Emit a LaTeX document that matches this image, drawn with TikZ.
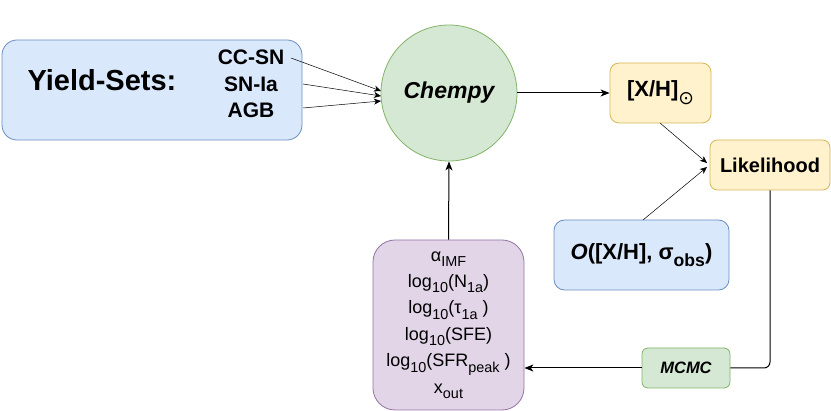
\documentclass[tikz,border=0pt]{standalone}
\usepackage{fontspec}
\usepackage{graphicx}
\setmainfont{Liberation Sans}
\newfontfamily\dejavu{DejaVu Sans}
\usetikzlibrary{arrows.meta}
\definecolor{bluefill}{HTML}{DAE8FC}
\definecolor{bluedraw}{HTML}{6C8EBF}
\definecolor{greenfill}{HTML}{D5E8D4}
\definecolor{greendraw}{HTML}{82B366}
\definecolor{yellowfill}{HTML}{FFF2CC}
\definecolor{yellowdraw}{HTML}{D6B656}
\definecolor{purplefill}{HTML}{E1D5E7}
\definecolor{purpledraw}{HTML}{9673A6}
\newcommand\sbx[1]{\raisebox{-0.3em}{\scalebox{0.8}{#1}}}
\newcommand\fs[1]{\fontsize{#1}{1.2\dimexpr #1pt\relax}\selectfont}
\tikzset{
  box/.style={rectangle, draw, line width=0.8pt, inner sep=0pt, align=center},
  bluebox/.style={box, fill=bluefill, draw=bluedraw},
  greenbox/.style={box, fill=greenfill, draw=greendraw},
  yellowbox/.style={box, fill=yellowfill, draw=yellowdraw},
  purplebox/.style={box, fill=purplefill, draw=purpledraw},
  txt/.style={inner sep=0pt, align=center},
  thinarrow/.style={line width=0.5pt, -{Stealth[length=7pt,width=6pt,inset=2pt]}},
  thickarrow/.style={line width=1pt, -{Stealth[length=9pt,width=7pt,inset=2.5pt]}},
}
\begin{document}
\begin{tikzpicture}[x=1pt,y=-1pt]
\useasboundingbox (0,0) rectangle (831,411);
% Yield-sets box
\node[bluebox, rounded corners=15pt, minimum width=300pt, minimum height=100pt] (yield) at (152,90) {};
\node[txt, font=\fs{29}\bfseries] (ytitle) at (102,80) {Yield-Sets:};
\node[txt, font=\fs{21}\bfseries] (ccsn) at (251,57.5) {CC-SN};
\node[txt, font=\fs{21}\bfseries] (snia) at (251,84) {SN-Ia};
\node[txt, font=\fs{21}\bfseries] (agb) at (251,110) {AGB};
% Chempy
\node[circle, draw=greendraw, fill=greenfill, line width=0.8pt, minimum size=136pt, inner sep=0pt, font=\fs{23}\bfseries\itshape] (chempy) at (449,93) {Chempy};
\coordinate (c1) at (381,91);
\coordinate (c2) at (381,96);
\coordinate (c3) at (381,101);
\coordinate (s1) at (291,58);
\coordinate (s2) at (303,84);
\coordinate (s3) at (303,108);
\draw[thinarrow] (s1) -- (c1);
\draw[thinarrow] (s2) -- (c2);
\draw[thinarrow] (s3) -- (c3);
% [X/H]
\node[yellowbox, rounded corners=9pt, minimum width=101pt, minimum height=60pt, font=\fs{22}\bfseries] (xh) at (660.5,93) {[X/H]\raisebox{-0.35em}{\scalebox{0.85}{\mdseries\dejavu ⊙}}};
% Likelihood
\node[yellowbox, rounded corners=7.5pt, minimum width=120pt, minimum height=50pt, font=\fs{20}\bfseries] (lik) at (770,165) {Likelihood};
% Observations
\node[bluebox, rounded corners=10.5pt, minimum width=175pt, minimum height=70pt, font=\fs{22}\bfseries] (obs) at (641.5,255) {\textit{O}([X/H], σ\sbx{obs})};
% MCMC
\node[greenbox, rounded corners=6pt, minimum width=88pt, minimum height=40pt, font=\fs{16.5}\bfseries\itshape] (mcmc) at (686,368) {MCMC};
% Parameters
\node[purplebox, rounded corners=22pt, minimum width=151pt, minimum height=170pt, font=\fontsize{18}{26.4}\selectfont] (params) at (448.5,325) {α\sbx{IMF}\\ log\sbx{10}(N\sbx{1a})\\ log\sbx{10}(τ\sbx{1a} )\\ log\sbx{10}(SFE)\\ log\sbx{10}(SFR\sbx{peak} )\\ x\sbx{out}};
% connectors
\coordinate (xhs) at (660,123);
\coordinate (l1) at (707,163);
\coordinate (obsn) at (643,220);
\coordinate (l2) at (707,167);
\draw[thickarrow] (chempy.east) -- (xh.west);
\draw[thinarrow] (xhs) -- (l1);
\draw[thinarrow] (obsn) -- (l2);
\draw[line width=1pt, rounded corners=6pt] (lik.south) |- (mcmc.east);
\draw[thickarrow] (mcmc.west) -- (params.east |- mcmc.west);
\draw[thickarrow] (params.north) -- (chempy.south);
\end{tikzpicture}
\end{document}
